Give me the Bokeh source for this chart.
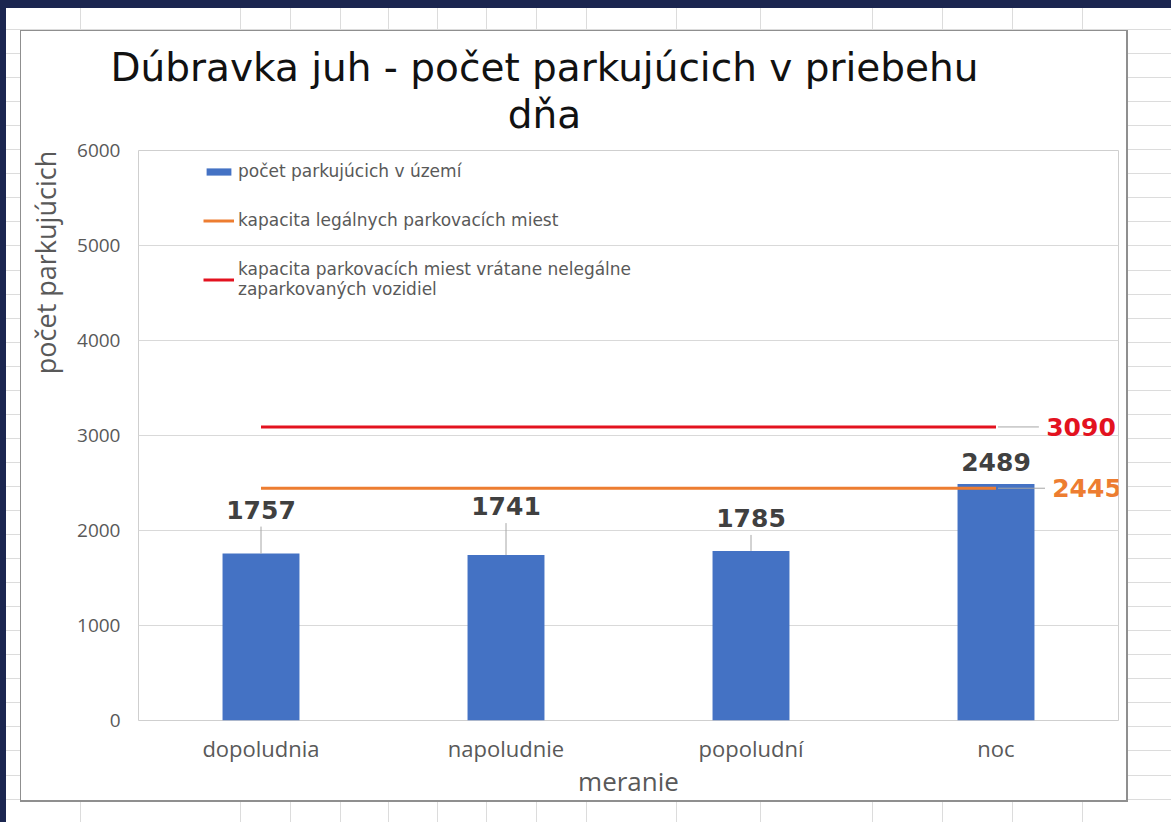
import math
from bokeh.plotting import figure
from bokeh.models import (ColumnDataSource, FactorRange, Range1d, Label, LabelSet,
                          Legend, LegendItem, FixedTicker)
from bokeh.transform import dodge
from bokeh.core.properties import value
from bokeh.embed import file_html
from bokeh.resources import INLINE

# ---------------- data ----------------
categories = ["dopoludnia", "napoludnie", "popoludní", "noc"]
parked = [1757, 1741, 1785, 2489]
legal_capacity = [2445, 2445, 2445, 2445]
total_capacity = [3090, 3090, 3090, 3090]
y_ticks = [0, 1000, 2000, 3000, 4000, 5000, 6000]
title_lines = ["Dúbravka juh - počet parkujúcich v priebehu", "dňa"]
series_names = ["počet parkujúcich v území",
                "kapacita legálnych parkovacích miest",
                "kapacita parkovacích miest vrátane nelegálne\nzaparkovaných vozidiel"]
x_title = "meranie"
y_title = "počet parkujúcich"

# ---------------- layout / style ----------------
W, H = 1171, 822
FRAME_W, FRAME_H = 980, 570
Y_MAX = 6000
PX_PER_UNIT = FRAME_H / Y_MAX
label_lift = [44, 49, 33, 22]      # px above bar top (label centre)
leader_len = [27, 32, 16, 0]       # px of leader line above bar top

BLUE = "#4472C4"
ORANGE = "#ED7D31"
RED = "#E3121F"
GRAY_TXT = "#595959"
SHEET_GRID = "#dcdcdc"
NAVY = "#1b2650"

# chart-area box in canvas px
CA_L, CA_R, CA_T, CA_B = 20, 1127, 30, 801

p = figure(x_range=FactorRange(factors=categories, range_padding=0),
           y_range=Range1d(0, Y_MAX),
           frame_width=FRAME_W, frame_height=FRAME_H,
           min_border_left=138, min_border_right=W - 138 - FRAME_W,
           min_border_top=150, min_border_bottom=H - 150 - FRAME_H,
           output_backend="svg", toolbar_location=None,
           background_fill_color="white", border_fill_color=None)

p.outline_line_color = "#cfcfcf"
p.outline_line_width = 1

# page decoration behind the (transparent) canvas border: spreadsheet grid,
# navy window edge, white chart area with a gray border
def solid(color, x, y, w, h):
    return f"linear-gradient({color},{color}) {x}px {y}px / {w}px {h}px no-repeat"

col_x = [80, 240, 290, 340, 388, 437, 486, 536, 586, 676, 760, 872, 942, 1012, 1082]
layers = [
    solid("#ffffff", CA_L + 1, CA_T + 1, CA_R - CA_L - 2, CA_B - CA_T - 2),
    solid("#8f8f8f", CA_L, CA_T, CA_R - CA_L + 1, CA_B - CA_T + 1),
    solid(NAVY, 0, 0, W, 8),
    solid(NAVY, 0, 0, 6, H),
]
layers += [solid(SHEET_GRID, cx, 0, 1, H) for cx in col_x]
layers.append(f"repeating-linear-gradient(to bottom, transparent 0px, transparent 4.95px, "
              f"{SHEET_GRID} 4.95px, {SHEET_GRID} 5.95px, transparent 5.95px, "
              f"transparent 24.05px) 0px 0px / {W}px {H}px no-repeat")
p.styles = {"background": ", ".join(layers) + ", #ffffff"}

# ---------------- glyphs ----------------
bar_src = ColumnDataSource(dict(
    cat=categories, val=parked, txt=[str(v) for v in parked],
    lift=label_lift,
    lead_top=[v + l / PX_PER_UNIT for v, l in zip(parked, leader_len)],
))
bars = p.vbar(x="cat", top="val", width=0.314, source=bar_src,
              fill_color=BLUE, line_color=None)
p.segment(x0="cat", y0="val", x1="cat", y1="lead_top", source=bar_src,
          line_color="#a6a6a6", line_width=1)

end_src = ColumnDataSource(dict(
    cat=[categories[-1], categories[-1]],
    val=[total_capacity[-1], legal_capacity[-1]],
    txt=[str(total_capacity[-1]), str(legal_capacity[-1])],
    color=[RED, ORANGE],
    dx=[85, 91],
))
p.segment(x0=dodge("cat", 0.008, range=p.x_range), y0="val",
          x1=dodge("cat", 0.175, range=p.x_range), y1="val",
          source=ColumnDataSource(dict(cat=[categories[-1]], val=[total_capacity[-1]])),
          line_color="#a6a6a6", line_width=1)
p.segment(x0=dodge("cat", 0.008, range=p.x_range), y0="val",
          x1=dodge("cat", 0.2, range=p.x_range), y1="val",
          source=ColumnDataSource(dict(cat=[categories[-1]], val=[legal_capacity[-1]])),
          line_color="#a6a6a6", line_width=1)

orange_line = p.line(categories, legal_capacity, line_color=ORANGE, line_width=3)
red_line = p.line(categories, total_capacity, line_color=RED, line_width=3)

p.add_layout(LabelSet(x="cat", y="val", text="txt", x_offset="dx", source=end_src,
                      text_align="center", text_baseline="middle",
                      text_font=value("DejaVu Sans"), text_font_size="25px",
                      text_font_style="bold", text_color="color"))
p.add_layout(LabelSet(x="cat", y="val", text="txt", y_offset="lift", source=bar_src,
                      text_align="center", text_baseline="middle",
                      text_font=value("DejaVu Sans"), text_font_size="25px",
                      text_font_style="bold", text_color="#404040"))

# ---------------- axes ----------------
p.xgrid.visible = False
p.ygrid.ticker = FixedTicker(ticks=y_ticks)
p.ygrid.grid_line_color = "#d9d9d9"

p.yaxis.ticker = FixedTicker(ticks=y_ticks)
p.yaxis.axis_line_color = None
p.yaxis.major_tick_line_color = None
p.yaxis.minor_tick_line_color = None
p.yaxis.major_label_standoff = 12
p.yaxis.major_label_text_font = "Open Sans"
p.yaxis.major_label_text_font_size = "19px"
p.yaxis.major_label_text_color = GRAY_TXT

p.xaxis.axis_line_color = None
p.xaxis.major_tick_line_color = None
p.xaxis.minor_tick_line_color = None
p.xaxis.major_label_standoff = 6
p.xaxis.major_label_text_font = "Open Sans"
p.xaxis.major_label_text_font_size = "22px"
p.xaxis.major_label_text_color = GRAY_TXT
p.xaxis.axis_label = x_title
p.xaxis.axis_label_standoff = -3
p.xaxis.axis_label_text_font = "Open Sans"
p.xaxis.axis_label_text_font_size = "26px"
p.xaxis.axis_label_text_font_style = "normal"
p.xaxis.axis_label_text_color = GRAY_TXT

# ---------------- titles ----------------
for txt, by in zip(title_lines, [67, 114]):
    p.add_layout(Label(x=544, y=by, x_units="canvas", y_units="canvas", text=txt,
                       text_align="center", text_baseline="alphabetic",
                       text_font="DejaVu Sans", text_font_size="39px",
                       text_color="#111111"), "above")
p.add_layout(Label(x=45, y=262, x_units="canvas", y_units="canvas", text=y_title,
                   angle=math.pi / 2, text_align="center", text_baseline="middle",
                   text_font="Open Sans", text_font_size="27px",
                   text_color=GRAY_TXT), "left")

# ---------------- legend ----------------
legend = Legend(items=[LegendItem(label=series_names[0], renderers=[bars]),
                       LegendItem(label=series_names[1], renderers=[orange_line]),
                       LegendItem(label=series_names[2], renderers=[red_line])],
                location=(65, 421), orientation="vertical",
                glyph_width=31, glyph_height=9, label_standoff=4, spacing=29,
                padding=0, margin=0, label_height=20,
                label_text_font="DejaVu Sans", label_text_font_size="17px",
                label_text_color=GRAY_TXT,
                background_fill_alpha=0, border_line_color=None)
p.add_layout(legend)

open("out.html", "w").write(file_html(p, INLINE))
